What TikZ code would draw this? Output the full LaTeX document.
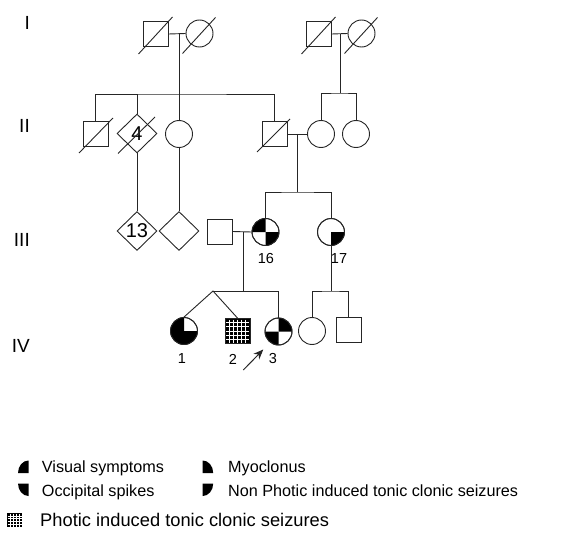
\documentclass[tikz,border=0pt]{standalone}
\usepackage{fontspec}
\setmainfont{Liberation Sans}
\usetikzlibrary{shapes.geometric,arrows.meta,calc}
\newcommand\qfill[3]{\fill[black] (#1.center) -- ++(#2:#3) arc[start angle=#2, end angle={#2+90}, radius=#3] -- cycle;}
\newcommand\qicon[2]{\fill[black] (#1) -- ++(#2:{10.5pt and 12.5pt}) arc[start angle=#2, end angle={#2+90}, x radius=10.5pt, y radius=12.5pt] -- cycle;}
\begin{document}
\begin{tikzpicture}[x=1pt,y=-1pt,
 ln/.style={line width=0.9pt, draw=black!85},
 sq/.style={ln, rectangle, minimum size=25pt, inner sep=0pt},
 ci/.style={ln, circle, minimum size=27pt, inner sep=0pt},
 di/.style={ln, diamond, minimum width=40pt, minimum height=39pt, inner sep=0pt, font=\fontsize{20}{20}\selectfont},
 gen/.style={font=\fontsize{19}{19}\selectfont, anchor=east, inner sep=0pt},
 lab/.style={font=\fontsize{14.5}{14.5}\selectfont, inner sep=0pt},
 leg/.style={font=\fontsize{16.2}{16.2}\selectfont, anchor=base west, inner sep=0pt},
 dead/.style={ln},
]
\useasboundingbox (0,0) rectangle (563,535);
% generation labels
\node[gen] (gI) at (30,22.5) {I};
\node[gen] (gII) at (30,125.5) {II};
\node[gen] (gIII) at (30,239.5) {III};
\node[gen] (gIV) at (30,345.5) {IV};
% generation I
\node[sq] (a1) at (155.5,34) {};
\node[ci] (a2) at (199.5,33.5) {};
\node[sq] (b1) at (318.5,34) {};
\node[ci] (b2) at (361.5,33.5) {};
\draw[ln] (a1.east) -- (a2.west);
\draw[ln] (b1.east) -- (b2.west);
\draw[dead] ($(a1.center)+(-17,20)$) -- ($(a1.center)+(17,-17)$);
\draw[dead] ($(a2.center)+(-17,20)$) -- ($(a2.center)+(16,-16)$);
\draw[dead] ($(b1.center)+(-17,20)$) -- ($(b1.center)+(17,-17)$);
\draw[dead] ($(b2.center)+(-17,20)$) -- ($(b2.center)+(16,-16)$);
% generation II
\node[sq] (c1) at (95.5,134) {};
\node[di] (c2) at (137,133.5) {4};
\node[ci] (c3) at (179,134) {};
\node[sq] (c4) at (274.5,134) {};
\node[ci] (c5) at (321,134) {};
\node[ci] (c6) at (356,134) {};
\draw[dead] ($(c1.center)+(-16.5,19)$) -- ($(c1.center)+(17.5,-16)$);
\draw[dead] ($(c2.center)+(-19,20)$) -- ($(c2.center)+(18,-16.5)$);
\draw[dead] ($(c4.center)+(-17.5,18)$) -- ($(c4.center)+(15.5,-15)$);
\coordinate (sA) at (179.5,34);
\coordinate (sAb) at (179.5,94);
\coordinate (sB) at (340.5,34);
\coordinate (sBb) at (340.5,93);
\draw[ln] (sA) -- (sAb);
\draw[ln] (c3.north) -- (c3.north |- sAb);
\draw[ln] (c1.north) |- (sAb) -| (c4.north);
\draw[ln] (c2.north) -- (c2.north |- sAb);
\draw[ln] (sB) -- (sBb);
\draw[ln] (c5.north) |- (sBb) -| (c6.north);
\draw[ln] (c4.east) -- (c5.west);
% generation III
\node[di] (d1) at (137,231) {13};
\node[di] (d2) at (179,231) {};
\node[sq] (d3) at (219.5,231.5) {};
\node[ci] (d4) at (265.5,232) {};
\node[ci] (d5) at (331,232) {};
\qfill{d4}{90}{13.5pt}
\qfill{d4}{270}{13.5pt}
\qfill{d5}{270}{13.5pt}
\node[ci] at (d4) {};
\node[ci] at (d5) {};
\draw[ln] (c2.south) -- (d1.north);
\draw[ln] (c3.south) -- (d2.north);
\draw[ln] (d3.east) -- (d4.west);
\coordinate (sC) at (297,134);
\coordinate (sCb) at (297,192);
\draw[ln] (sC) -- (sCb);
\draw[ln] (d4.north) |- (sCb) -| (d5.north);
\node[lab] (l16) at (266,259) {16};
\node[lab] (l17) at (339,259) {17};
% generation IV
\node[ci] (e1) at (184,331) {};
\node[sq, fill=black] (e2) at (237.5,331) {};
\foreach \i in {1,...,5}{
  \draw[white, line width=0.8pt] ({225+\i*25/6},319.5) -- ({225+\i*25/6},342.5);
  \draw[white, line width=0.8pt] (226,{318.5+\i*25/6}) -- (249,{318.5+\i*25/6});
}
\node[ci] (e3) at (278.5,331.5) {};
\node[ci] (e4) at (312,331) {};
\node[sq] (e5) at (348.5,330) {};
\qfill{e1}{90}{13.5pt}
\qfill{e1}{180}{13.5pt}
\qfill{e1}{270}{13.5pt}
\qfill{e3}{0}{13.5pt}
\qfill{e3}{180}{13.5pt}
\node[ci] at (e1) {};
\node[ci] at (e3) {};
\coordinate (sD) at (243,232);
\coordinate (sDb) at (243,291);
\coordinate (tw) at (213,291);
\draw[ln] (sD) -- (sDb);
\draw[ln] (tw) -- (e3.north |- tw) -- (e3.north);
\draw[ln] (e1.north) -- (tw) -- (e2.north);
\coordinate (sEb) at (331,291);
\draw[ln] (d5.south) -- (sEb);
\draw[ln] (e4.north) |- (sEb) -| (e5.north);
\node[lab] (l1) at (182,359) {1};
\node[lab] (l2) at (233,359) {2};
\node[lab] (l3) at (273,359) {3};
\coordinate (ar1) at (243.3,370);
\coordinate (ar2) at (263.3,349.5);
\draw[ln, line width=1pt, -{Stealth[length=10pt,width=8pt]}] (ar1) -- (ar2);
% legend
\coordinate (k1) at (28.5,473);
\coordinate (k2) at (28.5,483.5);
\coordinate (k3) at (202.7,473);
\coordinate (k4) at (202.7,483.5);
\qicon{k1}{90}
\qicon{k2}{180}
\qicon{k3}{0}
\qicon{k4}{270}
\node[leg] (t1) at (41.7,472.3) {Visual symptoms};
\node[leg] (t2) at (41.7,496.7) {Occipital spikes};
\node[leg] (t3) at (228,472.3) {Myoclonus};
\node[leg] (t4) at (228,496.7) {Non Photic induced tonic clonic seizures};
\fill[black] (7,513) rectangle (22,527);
\foreach \i in {1,...,4}{
  \draw[white, line width=0.6pt] ({7+\i*3},513.5) -- ({7+\i*3},526.5);
  \draw[white, line width=0.6pt] (7.5,{513+\i*2.8}) -- (21.5,{513+\i*2.8});
}
\node[leg, font=\fontsize{18.3}{18.3}\selectfont] (t5) at (40,526) {Photic induced tonic clonic seizures};
\end{tikzpicture}
\end{document}
